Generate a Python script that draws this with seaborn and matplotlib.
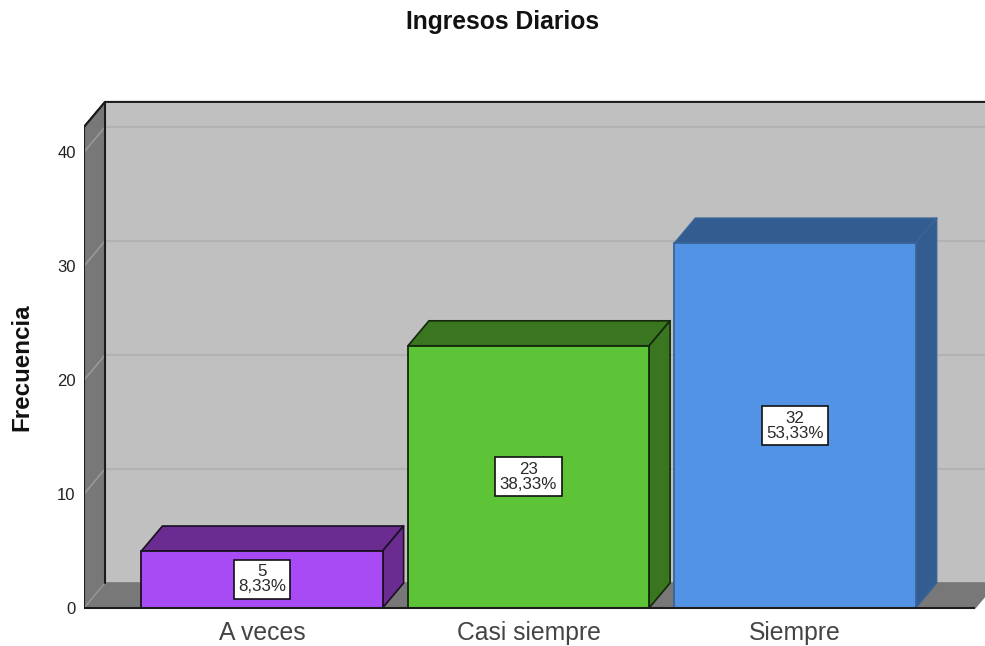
import matplotlib
matplotlib.use("Agg")
import matplotlib.pyplot as plt
import pandas as pd
import seaborn as sns
from matplotlib.patches import Polygon

# data
categorias = ["A veces", "Casi siempre", "Siempre"]
frecuencias = [5, 23, 32]
porcentajes = ["8,33%", "38,33%", "53,33%"]
marcas_y = [0, 10, 20, 30, 40]

colores = ["#A94BF5", "#5EC437", "#5393E5"]
colores_osc = ["#6B2C91", "#3A7520", "#335C90"]
bordes = ["#1A1020", "#14280C", "#3A6496"]

# 3d look: depth of the box
prof_x = 21 / 266.5
prof_y = 25 / 11.4
x_izq, x_der = -0.668, 2.675
y_tope = 42.2

sns.set_theme(style="white")
plt.rcParams["font.family"] = ["Liberation Sans", "DejaVu Sans"]

W, H = 985, 646
fig = plt.figure(figsize=(W / 100, H / 100), dpi=100)
y_min, y_max = -0.4, 44.8
ax_bot = 608 + 0.4 * 11.4
ax_top = 608 - y_max * 11.4
ax = fig.add_axes([84 / W, 1 - ax_bot / H, (W - 84) / W, (ax_bot - ax_top) / H])

df = pd.DataFrame({"categoria": categorias, "frecuencia": frecuencias})
sns.barplot(data=df, x="categoria", y="frecuencia", hue="categoria", palette=colores,
            width=0.905, saturation=1, legend=False, ax=ax)

ax.set_xlim(x_izq, (W - 262) / 266.5)
ax.set_ylim(y_min, y_max)
sns.despine(ax=ax, left=True, bottom=True)
ax.patch.set_alpha(0)


def cara(puntos, color, borde=None, lw=1.2, z=1):
    ax.add_patch(Polygon(puntos, closed=True, facecolor=color, edgecolor=borde or color,
                         linewidth=lw, zorder=z, joinstyle="round"))


# walls and floor
cara([(x_izq + prof_x, prof_y), (x_der + prof_x, prof_y), (x_der + prof_x, y_tope + prof_y),
      (x_izq + prof_x, y_tope + prof_y)], "#C0C0C0", z=0.2)
cara([(x_izq, 0), (x_izq + prof_x, prof_y), (x_izq + prof_x, y_tope + prof_y), (x_izq, y_tope)],
     "#787878", z=0.3)
cara([(x_izq, 0), (x_der, 0), (x_der + prof_x, prof_y), (x_izq + prof_x, prof_y)], "#787878", z=0.3)

for v in marcas_y[1:]:
    ax.plot([x_izq, x_izq + prof_x], [v, v + prof_y], color="#989898", lw=1.2, zorder=0.5)
    ax.plot([x_izq + prof_x, x_der + prof_x], [v + prof_y, v + prof_y], color="#B2B2B2", lw=1.5, zorder=0.5)
ax.plot([x_izq, x_izq + prof_x], [0, prof_y], color="#989898", lw=1.0, zorder=0.5)

# frame lines
negro = "#1C1C1C"
ax.plot([x_izq, x_izq, x_izq + prof_x, x_der + prof_x + 1], [0, y_tope, y_tope + prof_y, y_tope + prof_y],
        color=negro, lw=1.5, zorder=0.6)
ax.plot([x_izq + prof_x, x_izq + prof_x], [prof_y, y_tope + prof_y], color=negro, lw=1.5, zorder=0.6)
ax.plot([x_izq, x_izq + prof_x], [y_tope, y_tope + prof_y], color=negro, lw=1.2, zorder=0.6)

# bars: front from barplot, side and top derived from it
for barra, oscuro, borde, n, pct in zip(ax.patches[:3], colores_osc, bordes, frecuencias, porcentajes):
    x0 = barra.get_x()
    x1 = x0 + barra.get_width()
    h = barra.get_height()
    cara([(x0, h), (x1, h), (x1 + prof_x, h + prof_y), (x0 + prof_x, h + prof_y)], oscuro, borde, z=2)
    cara([(x1, 0), (x1 + prof_x, prof_y), (x1 + prof_x, h + prof_y), (x1, h)], oscuro, borde, z=2)
    barra.set_edgecolor(borde)
    barra.set_linewidth(1.3)
    barra.set_zorder(3)
    ax.text((x0 + x1) / 2, h / 2, "{}\n{}".format(n, pct), ha="center", va="center", fontsize=12.2,
            color="#2A2A2A", linespacing=1.0, zorder=5,
            bbox=dict(boxstyle="square,pad=0.26", facecolor="white", edgecolor="#111111", linewidth=1.2))

ax.plot([x_izq, x_der], [0, 0], color=negro, lw=1.5, zorder=4, solid_capstyle="butt")

ax.set_yticks(marcas_y)
ax.set_yticklabels([str(v) for v in marcas_y], fontsize=12, color="#222222")
ax.tick_params(axis="y", length=0, pad=6)
ax.tick_params(axis="x", length=0, pad=6, labelsize=17.8, labelcolor="#444444")
ax.set_xlabel("")
ax.set_ylabel("")

fig.text(22 / W, 1 - 367 / H, "Frecuencia", rotation=90, ha="center", va="center",
         fontsize=17.4, fontweight="bold", color="#111111")
fig.text(503 / W, 1 - 22 / H, "Ingresos Diarios", ha="center", va="center",
         fontsize=17.7, fontweight="bold", color="#111111")

fig.savefig("out.png", dpi=100, facecolor="white")
